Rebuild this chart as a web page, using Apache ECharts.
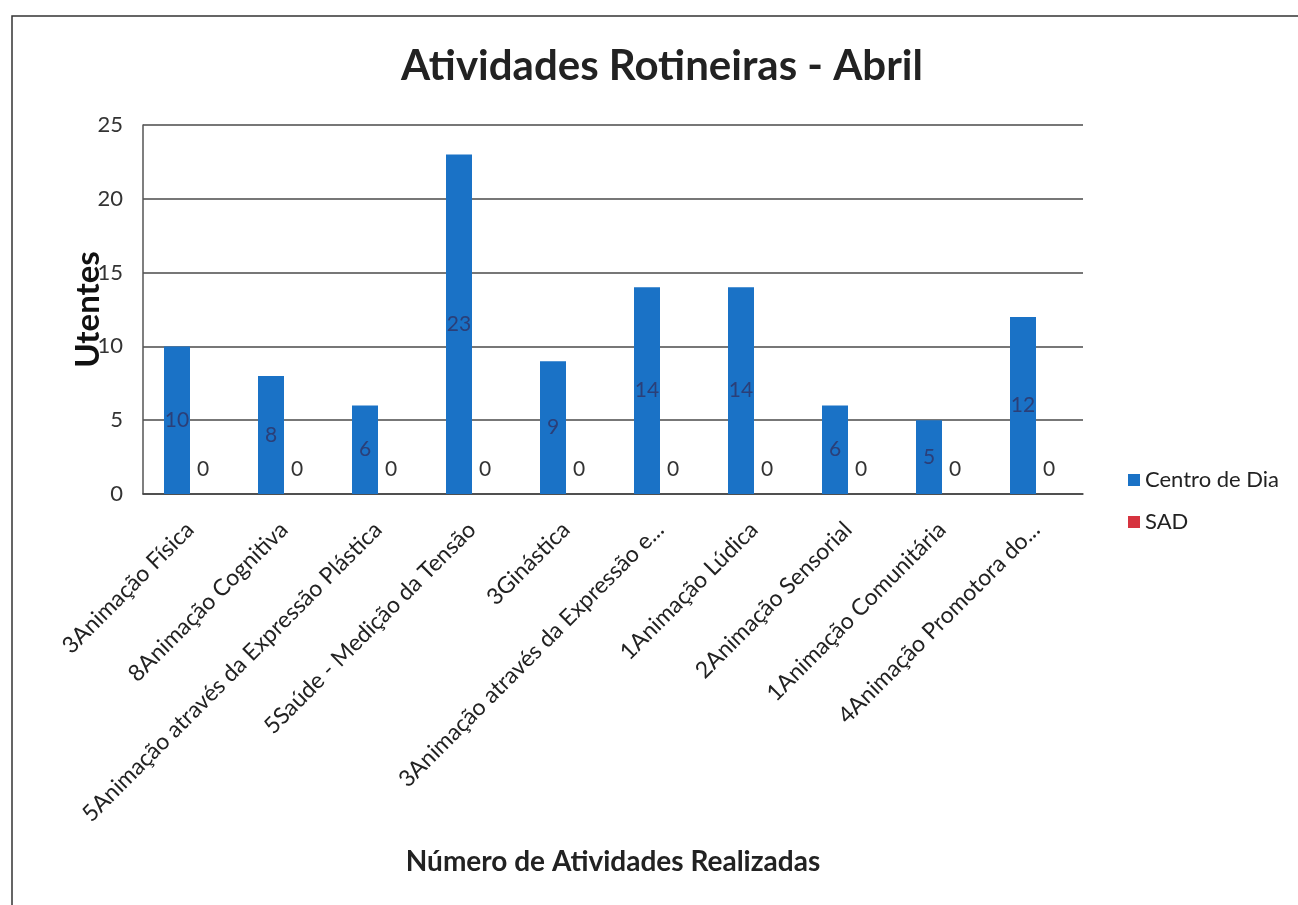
<!DOCTYPE html>
<html>
<head>
<meta charset="utf-8">
<title>Atividades Rotineiras - Abril</title>
<script src="https://cdn.jsdelivr.net/npm/echarts@6/dist/echarts.min.js"></script>
<style>
  html, body { margin: 0; padding: 0; background: #fff; }
  #chart { width: 1298px; height: 905px; }
</style>
</head>
<body>
<div id="chart"></div>
<script>
// categorias (eixo x)
var categories = [
  '3Animação Física',
  '8Animação Cognitiva',
  '5Animação através da Expressão Plástica',
  '5Saúde - Medição da Tensão',
  '3Ginástica',
  '3Animação através da Expressão e...',
  '1Animação Lúdica',
  '2Animação Sensorial',
  '1Animação Comunitária',
  '4Animação Promotora do...'
]
var centroDeDia = [10, 8, 6, 23, 9, 14, 14, 6, 5, 12]
var sad = [0, 0, 0, 0, 0, 0, 0, 0, 0, 0]
var yTicks = [0, 5, 10, 15, 20, 25]

var font = 'Lato, "Open Sans", sans-serif'
var chart = echarts.init(document.getElementById('chart'))
var option = {
  backgroundColor: '#fff',
  animation: false,
  textStyle: { fontFamily: font },
  title: {
    text: 'Atividades Rotineiras - Abril',
    left: 396,
    top: 40,
    textStyle: { fontSize: 42, fontWeight: 'bold', color: '#222', fontFamily: font }
  },
  legend: {
    orient: 'vertical',
    left: 1123,
    top: 464,
    itemWidth: 12,
    itemHeight: 12,
    itemGap: 20,
    icon: 'rect',
    textStyle: { fontSize: 22, color: '#222' },
    data: ['Centro de Dia', 'SAD']
  },
  grid: {
    left: 143,
    right: 215,
    top: 125,
    bottom: 411
  },
  graphic: [
    {
      type: 'rect',
      shape: { x: 12, y: 16, width: 1320, height: 1000 },
      style: { fill: 'none', stroke: '#333', lineWidth: 1.5 },
      silent: true
    }
  ],
  xAxis: {
    type: 'category',
    data: categories,
    name: 'Número de Atividades Realizadas',
    nameLocation: 'middle',
    nameGap: 354,
    nameTextStyle: { fontSize: 28, fontWeight: 'bold', color: '#222' },
    axisLine: { lineStyle: { color: '#444', width: 1.5 } },
    axisTick: { show: false },
    axisLabel: {
      interval: 0,
      rotate: 45,
      fontSize: 23,
      color: '#222',
      margin: 32
    }
  },
  yAxis: {
    type: 'value',
    min: yTicks[0],
    max: yTicks[yTicks.length - 1],
    interval: 5,
    name: 'Utentes',
    nameLocation: 'middle',
    nameGap: 38,
    nameMoveOverlap: false,
    nameTextStyle: { fontSize: 33, fontWeight: 'bold', color: '#111' },
    axisLine: { show: true, lineStyle: { color: '#555', width: 1.5 } },
    axisTick: { show: false },
    axisLabel: { fontSize: 22, color: '#333', margin: 20 },
    splitLine: { lineStyle: { color: '#4a4a4a', width: 1.5 } }
  },
  series: [
    {
      name: 'Centro de Dia',
      type: 'bar',
      barWidth: 26,
      barGap: '0%',
      itemStyle: { color: '#1a72c6' },
      label: {
        show: true,
        position: 'inside',
        fontSize: 21,
        color: '#2b3f78'
      },
      data: centroDeDia
    },
    {
      name: 'SAD',
      type: 'bar',
      barWidth: 26,
      itemStyle: { color: '#d6333f' },
      label: {
        show: true,
        position: 'top',
        distance: 14,
        fontSize: 21,
        color: '#333'
      },
      data: sad
    }
  ]
}
chart.setOption(option)
</script>
</body>
</html>
